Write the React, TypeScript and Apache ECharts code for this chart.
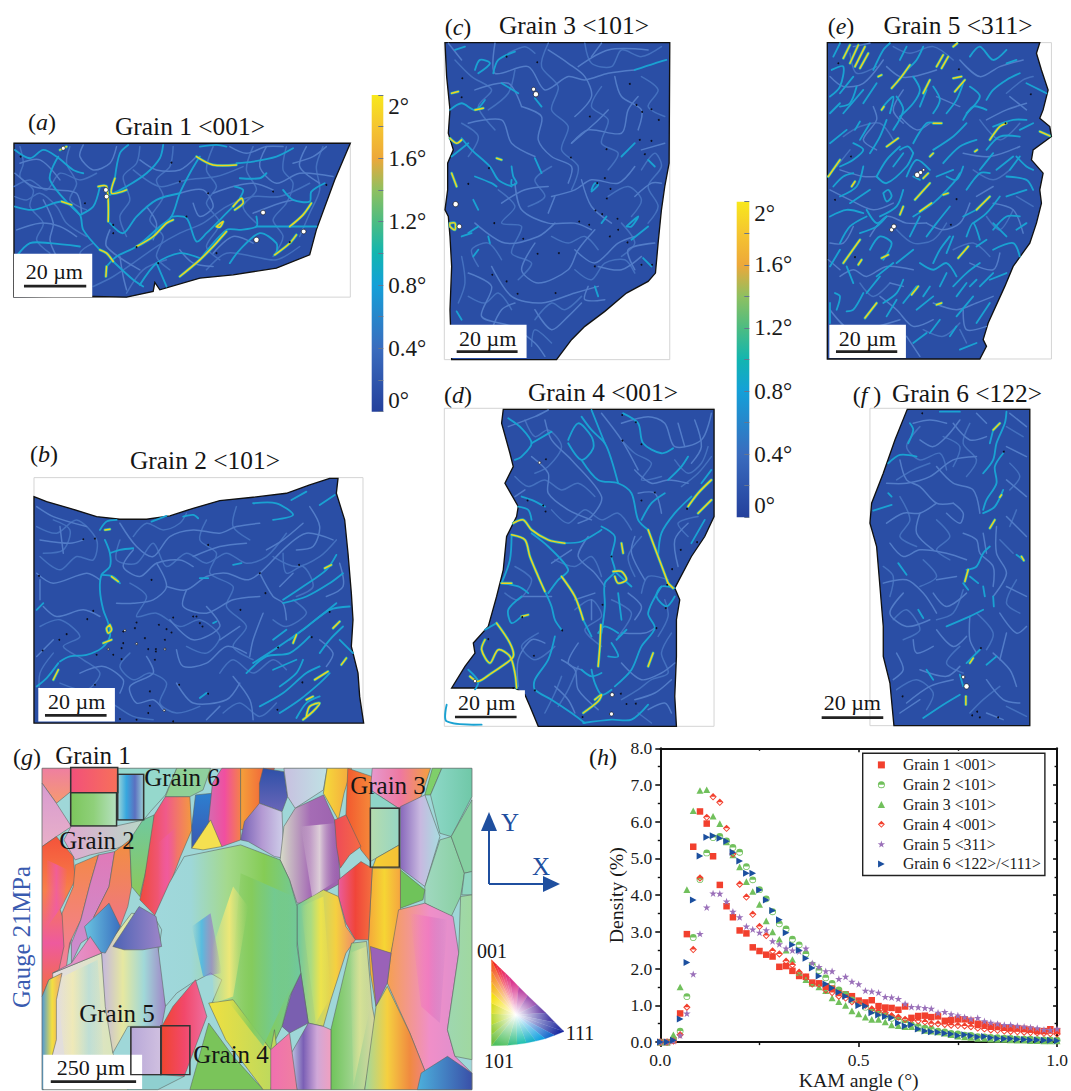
import * as echarts from "echarts"
import { useEffect, useRef } from "react"

const serif = '"Liberation Serif"'

// panel (h): density per KAM bin
const kamAngles = [0, 0.017, 0.033, 0.05, 0.067, 0.083, 0.1, 0.117, 0.133, 0.15, 0.167, 0.183, 0.2, 0.217, 0.233, 0.25, 0.267, 0.283, 0.3, 0.317, 0.333, 0.35, 0.367, 0.383, 0.4, 0.417, 0.433, 0.45, 0.467, 0.483, 0.5, 0.517, 0.533, 0.55, 0.567, 0.583, 0.6, 0.617, 0.633, 0.65, 0.667, 0.683, 0.7, 0.717, 0.733, 0.75, 0.767, 0.783, 0.8, 0.817, 0.833, 0.85, 0.867, 0.883, 0.9, 0.917, 0.933, 0.95, 0.967, 0.983, 1]
const grain1 = [0, 0, 0.05, 0.78, 2.94, 5.32, 6.28, 5.95, 5.06, 4.28, 3.7, 3.4, 3.04, 2.96, 2.58, 2.48, 2.38, 2.33, 2.05, 2.07, 1.94, 1.8, 1.78, 1.62, 1.6, 1.52, 1.46, 1.38, 1.3, 1.25, 1.13, 1.08, 1.14, 0.98, 0.94, 0.93, 0.88, 0.97, 0.66, 0.71, 0.72, 0.68, 0.7, 0.58, 0.6, 0.62, 0.62, 0.58, 0.5, 0.48, 0.42, 0.44, 0.4, 0.38, 0.38, 0.36, 0.34, 0.3, 0.3, 0.35, 0.3]
const grain2 = [0, 0, 0.05, 0.3, 1.24, 2.85, 4.43, 5.15, 5.57, 5.6, 5.48, 5.3, 5.17, 4.78, 4.42, 4.15, 3.9, 3.55, 3.22, 3.08, 2.8, 2.65, 2.4, 2.1, 1.95, 1.75, 1.6, 1.42, 1.3, 1.15, 1.05, 0.95, 0.85, 0.78, 0.72, 0.65, 0.6, 0.52, 0.47, 0.43, 0.38, 0.35, 0.3, 0.28, 0.24, 0.22, 0.19, 0.18, 0.15, 0.14, 0.13, 0.12, 0.11, 0.1, 0.09, 0.08, 0.08, 0.07, 0.06, 0.06, 0.05]
const grain3 = [0, 0, 0.2, 1.5, 4.15, 6.3, 6.85, 6.87, 6.15, 5.95, 5.45, 5.1, 4.77, 4.37, 4.1, 3.75, 3.3, 3, 2.8, 2.5, 2.25, 1.9, 1.7, 1.6, 1.5, 1.4, 1.2, 1.1, 1, 0.85, 0.77, 0.68, 0.62, 0.62, 0.55, 0.47, 0.45, 0.42, 0.42, 0.38, 0.32, 0.3, 0.28, 0.24, 0.2, 0.16, 0.14, 0.13, 0.1, 0.1, 0.08, 0.07, 0.07, 0.06, 0.05, 0.05, 0.04, 0.04, 0.03, 0.03, 0.03]
const grain4 = [0, 0, 0.03, 0.2, 0.95, 2.52, 4.47, 6.12, 6.68, 6.53, 5.82, 5.12, 4.3, 3.95, 3.48, 3.15, 2.9, 2.48, 2.4, 2.2, 2.1, 1.9, 1.77, 1.58, 1.58, 1.42, 1.35, 1.25, 1.2, 1.1, 1.05, 1, 0.9, 0.85, 0.8, 0.72, 0.68, 0.62, 0.62, 0.58, 0.55, 0.5, 0.5, 0.48, 0.46, 0.45, 0.44, 0.42, 0.38, 0.36, 0.33, 0.32, 0.3, 0.29, 0.28, 0.27, 0.26, 0.25, 0.24, 0.23, 0.22]
const grain5 = [0, 0, 0.03, 0.18, 0.78, 1.85, 2.95, 3.67, 4.05, 4.04, 3.83, 3.55, 3.4, 3.15, 3.07, 2.98, 3.05, 2.75, 2.67, 2.55, 2.5, 2.47, 2.55, 2.15, 2.05, 1.93, 1.93, 1.72, 1.78, 1.65, 1.58, 1.4, 1.38, 1.35, 1.23, 1.22, 1.18, 1.05, 0.96, 0.95, 0.93, 0.91, 0.8, 0.82, 0.76, 0.73, 0.68, 0.63, 0.66, 0.57, 0.53, 0.5, 0.47, 0.47, 0.44, 0.42, 0.4, 0.38, 0.34, 0.33, 0.36]
const grain6 = [0, 0, 0.05, 0.63, 2.17, 3.87, 5.07, 5.58, 5.62, 5.55, 5.47, 5.17, 4.93, 4.6, 4.6, 4.14, 3.87, 3.58, 3.33, 2.98, 2.65, 2.5, 2.28, 2.02, 1.8, 1.58, 1.47, 1.36, 1.25, 1.15, 1, 0.98, 0.8, 0.74, 0.7, 0.66, 0.52, 0.44, 0.47, 0.36, 0.3, 0.28, 0.27, 0.24, 0.22, 0.18, 0.2, 0.17, 0.14, 0.15, 0.12, 0.1, 0.09, 0.09, 0.08, 0.07, 0.06, 0.06, 0.05, 0.05, 0.04]
const legendNames = ["Grain 1 <001>", "Grain 2 <101>", "Grain 3 <101>", "Grain 4 <001>", "Grain 5 <311>", "Grain 6 <122>/<111>"]

const symSquare = "path://M0 0L10 0L10 10L0 10Z"
const symHalfCircle = "path://M0 5A5 5 0 0 1 10 5Z M0 5A5 5 0 0 0 10 5L8.8 5A3.8 3.8 0 0 1 1.2 5Z"
const symTriUp = "path://M5 0L10 9.5L0 9.5Z"
const symHalfDiamond = "path://M0 5L5 0L10 5Z M0 5L5 10L10 5L8.2 5L5 8.2L1.8 5Z"
const symStar = "path://M5 0L6.2 3.6L10 3.6L6.9 5.9L8.1 9.5L5 7.3L1.9 9.5L3.1 5.9L0 3.6L3.8 3.6Z"
const symTriRight = "path://M0 0L9.5 5L0 10Z"

// KAM maps, traced in 3x crop coordinates of each panel
const mapA = {
  origin: [0, 90],
  frame: [42, 160, 1010, 462],
  outline: "42,160 1052,160 1005,270 950,420 930,495 830,535 700,555 600,565 480,600 465,578 460,605 380,622 280,620 42,622",
  net: ["42,290 90,270 140,300 180,250 240,270 290,250", "60,170 70,220 60,260 100,300 90,350 130,400 110,450 150,490", "210,170 200,220 230,280 210,330 260,360", "420,170 410,220 370,260 390,330 360,380 380,440", "520,170 510,230 470,270 490,320 450,390 490,440 470,500 510,540", "640,170 620,240 650,290 620,340 660,400 620,470 660,510", "760,170 740,240 770,300 730,350 770,400", "860,170 850,240 880,280 860,340 820,390 850,440 820,500", "970,170 950,230 960,300 930,370 900,440", "280,590 340,560 400,520 470,470 540,430 610,400 680,350 760,320 840,320 930,280", "400,240 480,290 560,270 650,260 730,230", "620,540 680,490 760,500 830,510 900,470", "45,320 80,330 120,310 170,350 200,400 260,440", "380,610 430,540 500,510", "270,530 240,490 280,460"],
  faint: ["45,250 100,290 170,300 230,310 245,370", "250,165 240,200 280,240 330,220 350,170", "60,220 120,210 180,270", "130,330 160,400 150,450 170,500", "50,420 120,400 180,410 230,440", "360,500 370,560 380,600", "420,210 470,240 540,240 590,200", "540,310 610,300 640,350 600,380 580,340", "640,310 700,290 760,280 820,300", "800,170 780,230 830,280 900,250 1000,260", "640,490 700,440 760,460", "880,220 940,200 980,170", "540,480 580,520 640,530", "440,350 470,400 460,450", "690,170 740,190 800,170 850,170", "920,170 900,230 960,280", "330,420 320,470 420,540", "760,370 840,340 880,330"],
  mid: ["45,180 90,205 130,180 170,200 220,240 250,250", "490,165 480,205 440,250 380,290 330,315", "600,200 570,250 540,310 515,380 480,410 410,470 350,500 320,530", "385,165 360,190 345,265", "45,350 100,360 190,335 240,375 250,420 300,480", "300,290 280,350 240,375", "330,400 370,430 410,380 470,330 540,310", "515,380 560,385 590,455 620,430 680,370 710,340", "340,515 400,570 430,590", "420,585 470,520 540,490 600,505", "470,520 500,590", "600,510 680,420 720,420 770,410 770,380", "830,490 830,460 780,430 720,480 690,520", "770,410 830,410 870,410 950,410", "850,300 880,330 930,335 935,305 975,280", "600,170 650,165 680,170", "710,220 760,215 830,200 880,175", "720,265 780,265 800,250", "45,505 90,460 150,460 240,470", "175,200 150,270 240,375", "705,290 730,300 720,325"],
  hot: ["300,480 320,490 340,515", "295,290 320,290 325,395", "345,265 335,310 380,300", "410,470 460,440 500,400 520,390", "700,350 725,325 730,340 705,360", "870,410 910,375 935,340", "540,560 600,510 640,470 680,425", "590,200 640,225 710,225", "320,530 318,560", "650,410 670,395 660,412 650,410", "825,495 870,460 890,435", "180,180 200,170", "185,335 215,345"],
  dots: [[62, 200], [515, 218], [540, 275], [625, 310], [820, 305], [980, 285], [255, 340], [340, 405], [340, 430], [410, 472], [560, 380], [650, 490], [870, 457], [475, 520]],
  voids: [[190, 175, 6], [318, 300, 7], [320, 320, 7], [790, 368, 7], [770, 450, 8], [912, 425, 7]],
  box: [42, 492, 235, 130],
  bar: [72, 585, 187, 8],
  scale: [163, 545],
}
const mapB = {
  origin: [20, 440],
  frame: [42, 113, 988, 737],
  outline: "42,170 80,185 150,205 230,230 300,238 380,238 450,228 520,205 600,182 700,172 800,160 870,135 930,115 955,115 950,160 975,240 985,340 995,460 1000,540 995,620 1015,700 1020,770 1032,850 42,850",
  net: ["50,260 110,280 170,240 230,300 220,360 170,350 120,390 60,350", "60,560 120,540 180,590 130,620 190,660 240,700 200,750 120,730", "300,300 290,360 350,370 400,310 440,380 500,340 560,370 620,340 680,370 740,350 800,280", "560,240 540,300 590,340 570,400 640,440 620,500 680,560 640,620 700,660", "760,350 830,380 900,350 950,300", "330,430 380,470 350,530 410,520 480,560 540,540 600,590 560,640 500,620", "330,640 300,680 340,720 390,700 440,730 420,790 470,820 540,800", "100,240 150,270 130,330 70,340", "600,700 640,660 700,700 760,660 800,690", "820,480 860,520 800,560 760,540", "230,760 290,800 340,830 400,840", "60,770 60,700 100,640", "500,220 480,250 430,270 380,250 340,290", "650,200 640,260 690,300", "790,340 800,400 850,380 880,440 830,470", "610,820 660,790 720,830 770,790"],
  faint: ["50,200 100,230 200,260", "60,300 150,310 190,300", "50,400 100,430 200,400 240,420", "70,500 110,530 190,510 240,530", "300,250 350,320 400,350 450,290 520,270 600,280 650,260 720,250", "340,330 310,380 360,410 410,370 480,360 520,380", "410,370 440,440 400,480 340,490 290,490", "520,350 600,320 680,310", "440,440 500,450 560,410 620,400 680,420 720,400 800,320 860,280 940,300", "720,400 760,470 790,490 800,540", "500,450 490,500 560,520 640,480 720,470", "600,600 660,560", "470,630 490,680 560,670 620,620 680,640", "380,650 400,700 330,740 350,790 400,780 430,810", "180,700 250,680 310,720 300,760", "150,760 220,780 260,830", "640,710 690,780 700,840", "470,730 520,790 620,780 660,730", "560,840 600,800", "870,200 900,260 880,320 830,330", "730,520 700,600 690,650", "820,400 780,440", "60,420 60,480", "960,370 970,440 920,470", "100,600 50,650", "560,500 600,560 520,600 450,540", "850,250 790,300 740,330", "900,600 940,640 920,680", "120,260 130,340"],
  mid: ["240,270 260,245 290,240", "255,300 270,340 270,380 245,405 240,450 250,510 265,550 270,590 245,625 200,645 150,650 120,665", "270,340 300,330 340,325", "245,405 280,410 300,430", "115,670 80,715 50,740", "395,245 440,228", "490,230 520,225 535,235", "760,240 820,225 770,190 700,190", "815,180 860,155", "900,195 945,165", "790,480 850,440 920,390 950,345", "760,600 800,570", "700,670 770,625 850,570 930,510 990,500", "810,600 900,530 950,490", "780,740 830,700 850,660", "720,800 790,760 860,700 900,680", "830,835 860,790 900,770", "960,600 1000,640", "540,775 560,760", "580,550 590,545", "50,510 70,490", "640,375 665,370", "540,415 565,415", "780,820 840,780 900,730 930,700", "680,700 740,650 810,640 870,590", "790,490 860,470 930,430 970,400", "900,640 930,600 970,560", "760,690 830,660"],
  hot: ["255,270 270,268", "270,555 260,565 265,580 275,570 270,555", "250,610 275,600", "115,690 100,720", "820,610 830,585", "915,385 935,375", "940,565 960,545", "860,830 870,800 900,790 880,815 850,840", "885,720 925,695", "860,780 880,770", "965,675 980,655", "295,425 275,410"],
  dots: [[190, 298], [225, 296], [565, 315], [57, 408], [395, 420], [720, 400], [838, 375], [737, 460], [662, 510], [930, 516], [220, 513], [202, 538], [350, 548], [345, 565], [310, 575], [417, 555], [460, 533], [520, 530], [530, 530], [540, 550], [548, 560], [440, 568], [455, 578], [375, 595], [310, 610], [435, 600], [305, 625], [385, 628], [408, 628], [408, 635], [280, 645], [305, 658], [405, 660], [230, 645], [140, 583], [118, 600], [68, 632], [775, 623], [876, 592], [848, 728], [478, 735], [390, 755], [565, 762], [390, 798], [385, 820], [773, 810], [350, 840], [300, 838], [460, 845], [225, 735]],
  voids: [[315, 572, 3], [265, 628, 3], [350, 612, 3], [435, 628, 3], [433, 812, 3]],
  box: [55, 745, 230, 100],
  bar: [75, 823, 185, 8],
  scale: [170, 785],
}
const mapC = {
  origin: [435, 10],
  frame: [28, 98, 677, 952],
  outline: "30,98 705,98 703,460 690,530 680,600 670,700 662,790 640,815 575,850 510,905 450,950 410,990 365,1050 50,1050 45,900 50,770 45,680 40,620 30,600 38,540 38,460 55,420 40,370 45,300 35,200",
  net: ["60,150 110,200 170,240 130,290 180,360", "240,180 220,250 160,300", "80,340 130,380 100,440", "340,100 320,170 370,230 350,300 400,350 380,420 430,470 410,540", "450,100 470,160 530,170 560,120 620,140 680,110", "620,200 670,240 640,290 690,320", "500,230 470,290 520,330 500,400 550,430 520,480", "620,480 660,430 680,470 640,530 670,590 640,640", "190,540 240,590 200,640 260,650 230,730 290,760 250,810", "350,470 300,510 330,560 280,590", "130,770 110,720 160,700 200,750", "350,680 400,700 450,680 490,720", "420,780 470,810 510,760 570,750 600,790", "100,860 150,880 190,850 230,900", "300,930 350,880 390,900 440,860", "520,560 580,530 620,570 590,620", "560,640 600,700 560,740", "290,1010 300,960 350,1000", "80,740 90,820 70,880", "220,130 270,110 300,130"],
  faint: ["180,100 180,190 280,170 330,240 400,200 450,210 520,190 600,180", "340,120 400,160 450,200 470,260 420,320", "260,290 320,320 310,390 350,440 410,470 400,520", "120,240 220,220 260,290", "100,340 200,330 230,400 300,440", "410,400 460,360 560,370 580,300 610,260", "430,170 520,120 640,120", "540,200 560,260 620,300 610,360", "350,560 420,540 470,510 550,520 600,470", "440,510 470,590 530,640", "240,520 260,600 340,640 420,640 470,660", "340,610 360,560", "120,640 210,700 310,680 360,640", "170,770 230,860 320,880 420,850 490,830", "300,700 260,780 310,820 400,780 430,720 480,660", "420,720 480,760 550,700 600,680", "490,770 560,780 620,740", "100,790 170,830 140,920 230,950 300,1000 330,1040", "300,900 350,960 400,920 440,880", "460,830 450,870 510,870", "600,560 650,520 680,520", "620,420 690,400", "40,100 80,150", "520,300 480,340 410,400", "500,100 470,140", "200,580 270,540 340,530", "600,780 580,720 660,700", "240,880 200,900 170,960"],
  mid: ["60,120 90,110", "175,190 190,150 240,125", "120,180 135,150 165,160 130,190", "200,220 250,250", "300,265 320,290", "45,300 80,280 120,300 150,270", "80,385 110,420 165,470 190,510 230,530", "50,440 100,400", "120,500 170,520 185,530", "115,570 130,600", "100,670 130,650", "80,680 110,670", "160,680 165,700", "115,740 130,720", "600,180 660,160 695,150", "560,440 600,400", "470,545 490,525 480,520 470,540", "590,690 640,650", "575,650 610,620 590,650 575,650", "625,745 650,770", "640,450 660,470", "480,830 490,860", "65,905 80,930", "515,620 500,640", "230,470 235,500 245,520 230,525 230,510", "300,445 320,490"],
  hot: ["45,385 65,400 80,390", "45,640 60,640 60,660 45,650 45,640", "50,250 70,245", "50,490 65,530", "120,300 145,295", "185,445 200,450"],
  dots: [[215, 140], [307, 157], [82, 205], [80, 262], [585, 222], [605, 285], [622, 306], [650, 298], [672, 330], [465, 320], [615, 390], [650, 393], [515, 418], [408, 443], [630, 433], [162, 475], [100, 522], [487, 520], [510, 505], [527, 537], [516, 566], [482, 602], [502, 613], [548, 627], [433, 635], [463, 645], [550, 660], [525, 680], [578, 698], [178, 640], [265, 687], [308, 732], [372, 730], [480, 770], [620, 765], [652, 765], [172, 795], [215, 815], [248, 852], [362, 850]],
  voids: [[296, 238, 6], [303, 253, 8], [62, 583, 8], [73, 650, 7]],
  box: [40, 945, 235, 100],
  bar: [65, 1022, 183, 8],
  scale: [158, 985],
}
const mapD = {
  origin: [435, 380],
  frame: [28, 85, 810, 955],
  outline: "205,88 838,88 838,410 810,470 770,530 720,625 735,660 725,720 725,830 720,950 725,1040 310,1040 285,980 270,945 240,925 50,925 90,860 120,820 115,790 160,740 185,650 205,570 215,470 245,410 250,380 210,310 235,260 225,220 200,130",
  net: ["270,120 300,170 340,150 380,200 340,260 300,280", "240,290 280,320 330,300 380,330 430,310 480,350", "560,180 600,220 650,250 620,300 680,290", "720,240 760,280 800,250 820,200", "350,390 400,430 450,390 500,420 550,400 590,450", "620,470 580,530 600,590", "360,540 420,560 470,530 500,590", "240,560 290,600 250,660 210,640", "420,690 470,660 500,710 450,750 500,800", "310,760 260,800 300,840 360,800", "530,660 590,700 550,770", "620,640 640,590 700,600", "380,890 360,940 330,1000", "560,960 610,930 650,900 700,880 680,820 710,760", "610,1000 650,1030", "670,770 700,710 690,660", "430,860 400,930 370,980", "740,320 790,280 830,230", "760,470 730,430 790,410"],
  faint: ["330,120 350,180 410,240 500,350 470,410 430,430", "290,230 340,280 340,340 400,390 470,420", "560,130 640,110 690,130 720,200 800,180 830,100", "600,270 650,310 700,300 760,310", "610,340 660,340 680,400", "730,130 750,200", "600,470 590,520 630,600", "460,470 430,530 480,580 510,620", "410,510 350,550", "580,640 620,680 600,720", "420,660 480,640", "430,790 400,850 440,870", "330,790 290,780 250,840 250,920", "380,840 420,870 430,930 490,990", "560,850 620,900 680,880 720,850", "600,960 660,940 710,900", "350,650 300,650 260,650", "360,920 400,960 420,1000", "640,990 690,970 710,1000", "760,430 720,480 730,560", "470,660 470,720", "780,120 800,200 770,250", "220,140 300,110 340,90", "560,760 630,760 660,745", "270,330 240,350", "500,100 560,180 610,270"],
  mid: ["220,115 260,145 290,190 260,230 240,240", "290,190 350,155", "440,110 470,150 510,190 530,240 550,310", "470,90 510,190", "400,180 430,130 470,170 475,205 440,240 400,190", "440,240 490,300 550,310 590,340 610,420 640,450", "565,100 610,130 625,190 680,220 715,205", "700,300 740,260 760,230", "690,340 650,370 620,420", "830,270 800,310", "720,625 680,620 665,650 695,680 720,650", "680,620 640,700 660,745 620,800 590,870 540,920", "670,530 680,460 720,400 770,350", "810,420 770,490", "500,440 540,470 530,530 540,575 510,610 510,680 500,760", "540,575 590,620", "250,380 280,390 290,420", "260,350 290,360 330,380", "390,490 440,485 500,450", "230,465 225,540 200,610", "200,610 250,620 280,640", "340,640 370,600 400,570 340,500 290,460", "330,635 350,680 360,720 380,750", "445,720 470,770", "260,710 230,730 220,690 260,650", "360,770 340,840 300,900 300,930 350,960 410,1000 450,1030", "185,730 150,750", "100,870 130,905 120,930", "545,780 575,750", "470,870 480,910 500,945 530,930", "520,830 550,830 530,790", "440,870 470,890 500,880", "445,1030 530,1020 590,1020 640,975", "490,760 510,740 550,760", "550,640 560,720", "35,975 35,1025 140,1035"],
  hot: ["235,430 265,420 290,450 340,480 390,490", "230,465 270,480 285,530 310,590 330,635", "380,590 420,650 445,720", "498,735 495,800 490,860", "535,575 560,575 575,600 550,610 540,590", "700,610 715,625", "640,450 670,530 700,610", "150,780 140,810 165,850 190,810 225,830 240,880 245,925", "185,730 225,790 235,830 200,860 170,880 130,905 105,890", "480,960 500,945 490,965 445,1000", "830,300 790,340 760,380", "640,860 655,820", "830,360 790,400", "200,610 230,610", "260,710 280,705", "560,490 565,520"],
  dots: [[562, 105], [603, 127], [563, 182], [620, 193], [333, 238], [278, 362], [325, 377], [332, 395], [660, 338], [620, 362], [757, 387], [787, 487], [738, 510], [712, 568], [697, 615], [693, 685], [665, 745], [503, 675], [530, 530], [382, 752], [297, 828], [262, 712], [160, 778], [558, 942], [575, 973], [603, 972], [443, 1012], [300, 932], [235, 925]],
  voids: [[314, 248, 4], [120, 904, 5], [532, 945, 6], [530, 1003, 6]],
  box: [45, 932, 225, 88],
  bar: [60, 1008, 185, 8],
  scale: [155, 968],
}
const mapE = {
  origin: [820, 10],
  frame: [22, 98, 673, 950],
  outline: "22,98 660,98 650,130 665,180 685,240 670,300 660,325 690,350 695,380 640,420 635,450 670,490 660,540 665,580 650,640 630,700 580,770 555,830 505,940 490,990 500,1010 480,1048 22,1048",
  net: ["90,130 110,190 170,170", "220,110 270,130 340,110 400,150", "560,250 610,210 640,200", "480,330 540,390 600,340", "70,380 120,350 180,340 220,390", "50,470 90,420", "230,660 280,700 340,690 380,640", "400,720 460,700 510,740", "500,620 540,660 580,600", "120,820 160,860 210,820", "310,960 370,980 420,940", "440,1000 420,960", "590,560 640,590", "460,480 520,510 570,480"],
  faint: ["30,200 70,230 130,220 190,150", "200,170 240,200 280,200 350,180", "420,150 480,200 540,170 610,150", "500,330 560,300 620,280", "160,290 170,330 130,390 170,420", "240,320 290,360 330,340", "30,540 90,570 160,600 220,580", "320,640 370,660 420,640 450,580", "150,680 200,620 260,640 320,640", "60,800 100,780 140,800 200,770 280,780", "30,900 90,960 170,950 240,930", "180,860 230,900 280,950 340,930", "340,880 410,900 470,880 520,860", "520,580 580,600 610,670", "450,760 520,780 540,730", "430,430 510,440 600,410", "350,260 420,290", "60,480 130,500 170,500", "100,110 150,100", "260,980 300,1040", "430,900 440,960 500,950", "570,260 620,300", "250,240 220,300 250,340", "470,560 520,530", "30,700 70,700 100,650", "25,750 60,780", "210,820 250,830"],
  mid: ["40,140 60,100", "160,180 190,120 210,100", "240,150 260,110", "130,280 170,220", "70,310 130,240", "105,360 120,335", "190,290 220,260 210,310", "300,290 320,240", "280,200 300,240 280,280 240,320", "380,310 410,270 430,220", "450,140 480,110 520,150 560,120", "500,270 520,240 560,210 600,190", "560,160 590,150", "430,330 460,290 500,300", "30,400 80,360", "100,400 130,420 100,450 60,470", "170,500 200,450 240,410", "170,500 200,520 260,470 280,430", "190,550 200,575 215,560 205,540 190,550", "240,420 265,410 280,430", "280,400 320,340 350,340", "340,420 400,380 440,340", "370,460 420,410 470,390", "300,510 280,500", "280,620 340,580 400,520 420,490", "350,500 400,480", "440,540 480,490 510,490", "430,620 470,600", "520,660 560,620 600,620", "390,680 360,720 340,760", "400,680 380,730", "440,680 460,640 480,690", "470,710 500,690", "30,620 80,600 130,610", "90,580 150,540", "120,670 170,650 200,620", "150,720 180,680 215,700 190,750", "230,760 280,720", "300,760 340,780 380,760 410,800", "450,830 470,810", "510,810 560,790", "410,860 440,820", "360,830 380,790", "250,880 290,830", "310,860 330,830", "140,850 180,800", "45,850 60,860 50,900", "80,905 100,900 130,850", "330,970 360,930", "390,980 410,950", "280,1000 320,970", "420,1020 470,1000", "590,440 620,470 640,480", "600,360 640,340", "530,480 580,440", "560,500 620,510 640,540", "560,560 620,540", "590,660 620,640", "520,720 580,700 600,740", "620,220 660,240 680,250", "60,250 100,200", "35,180 70,170 60,230 30,260", "110,230 90,280 60,290", "150,340 120,390", "200,330 180,380 150,430", "230,260 250,300 220,360", "260,180 290,150 310,110", "340,230 360,270 340,310", "450,230 480,260 440,310", "520,350 580,330 620,330", "500,420 540,380 600,380", "480,480 520,430", "570,480 600,440", "130,470 110,530 60,560", "40,530 70,500 100,490", "200,620 170,640 140,600", "60,700 90,650 140,620", "30,770 60,720", "170,800 220,760", "250,810 230,850 190,880", "200,920 230,870", "290,900 340,860", "400,830 440,790 480,760", "480,830 520,790", "470,940 510,880", "410,920 460,860", "320,680 350,640 390,590", "270,680 300,620", "250,540 230,590 180,620", "330,480 290,450 260,500", "430,470 410,510 380,500", "540,560 500,610 460,640", "560,680 520,640", "30,940 30,880", "100,820 80,770", "220,470 250,430", "30,310 60,280"],
  hot: ["70,145 90,105", "90,160 115,105", "105,170 135,110", "120,175 145,130", "215,235 245,200 270,165", "350,170 370,135", "365,175 385,140", "400,205 425,200", "405,245 435,210", "660,365 690,378", "510,390 540,350 560,340", "470,600 510,560", "415,745 445,710", "285,570 330,520", "25,500 60,450", "310,505 325,490", "330,440 340,430", "200,410 235,385", "70,760 120,690", "115,765 125,750", "185,745 205,735", "185,300 192,290", "95,530 105,515", "370,555 385,550", "275,855 295,830", "135,925 170,880", "350,885 365,880", "465,425 472,420", "340,340 365,340", "300,605 335,580", "240,615 250,590", "175,200 185,195", "400,110 412,100", "310,250 330,210"],
  dots: [[55, 160], [417, 178], [633, 253], [557, 340], [93, 440], [45, 570], [410, 568], [393, 645], [105, 742]],
  voids: [[292, 495, 8], [302, 488, 6], [311, 480, 4], [215, 660, 6], [222, 650, 7]],
  box: [28, 945, 230, 100],
  bar: [48, 1022, 184, 8],
  scale: [142, 985],
}
const mapF = {
  origin: [820, 380],
  frame: [150, 85, 480, 953],
  outline: "262,88 630,88 630,1038 222,1038 210,910 190,830 190,740 180,620 170,500 150,430 155,370 190,280 225,180",
  net: ["230,300 280,270 330,250", "300,140 260,200 300,240 360,220 380,270", "450,130 430,190 470,240 440,290", "240,350 270,420 240,470 290,500", "350,420 390,470 350,510 390,540", "310,540 350,590 300,620", "430,630 400,700 350,720", "220,720 260,690 300,750 250,780", "560,140 610,170", "570,250 600,290 570,330", "590,390 570,440", "580,520 540,480", "590,600 560,670 600,700", "470,700 520,760 500,810", "420,800 380,850 430,880", "230,930 290,900 340,940 320,990", "450,1000 490,960 540,920", "560,980 620,1010", "370,170 420,200 400,260", "190,560 220,590 210,650"],
  faint: ["200,310 260,310 330,290 400,240 470,230", "240,240 260,300 300,320 350,370 400,370", "300,180 340,200 380,170 420,120", "280,130 330,120 380,130", "470,100 500,130", "350,260 400,310 460,330 480,400", "400,370 430,400 420,430 380,400", "200,430 250,400 300,400 350,370", "210,490 250,530 300,510 380,520 440,540", "300,400 290,460 340,510", "350,600 410,590", "430,460 470,480 480,520 520,560 520,620", "490,460 500,520", "530,440 530,520 560,580 520,650", "190,610 260,600 310,640 350,700", "250,640 210,700 260,740 330,720", "340,640 380,680 440,640", "450,710 450,780 470,820", "350,750 400,800 440,770", "230,820 250,870 220,900", "280,780 290,820 340,800", "300,870 380,890 420,860", "500,900 550,960 600,970", "520,820 570,870 590,920", "560,200 620,230", "560,300 620,350", "560,410 620,470", "560,620 620,650", "540,700 590,760 620,740", "260,970 330,920 400,900", "240,1000 300,960", "500,1000 550,1020", "560,760 540,840", "400,130 450,180 500,170", "570,100 620,140"],
  mid: ["520,150 510,190", "560,95 555,130 530,190 520,240 490,280", "550,220 525,260 530,310 500,360 490,390", "550,330 525,380 490,400", "440,570 470,560 490,520 510,500", "430,610 445,630", "450,590 475,610", "495,650 490,620", "520,650 522,680", "380,740 450,710 490,690", "310,1015 370,975 420,945", "440,850 480,810", "320,870 340,900", "235,550 260,585", "205,250 240,225 290,230", "205,340 215,350", "160,392 215,375", "265,190 280,150 270,130", "360,95 420,95", "590,525 610,540", "295,690 310,715", "500,855 530,830", "420,885 430,920"],
  hot: ["520,150 540,130", "510,445 525,420", "435,605 445,570", "450,850 460,835", "438,950 438,975", "545,345 540,352", "605,530 612,542"],
  dots: [[307, 100], [552, 215], [483, 805], [248, 950], [457, 1007], [472, 996], [480, 1013], [535, 1013]],
  voids: [[430, 892, 5], [440, 920, 8]],
  box: null,
  bar: [5, 1010, 185, 8],
  scale: [97, 968],
}
const kamMaps = [mapA, mapB, mapC, mapD, mapE, mapF]

// panel (g): orientation map grains, [outline, colours left-to-right or top-to-bottom, direction]
const ipfGrains: [string, string[], string][] = [
  ["112,85 188,85 188,155 150,190 112,130", ["#ef7fa0", "#f59a70"], "v"],
  ["112,130 150,190 190,260 150,290 112,320", ["#d89ad0", "#e8b0c8"], "v"],
  ["313,85 470,85 440,165 400,215 382,240 382,103 313,103", ["#95d8cc", "#95d8cc"], "h"],
  ["190,258 310,258 382,240 345,310 300,330 240,345 200,360 170,300", ["#e0a8d0", "#b8d8c8"], "h"],
  ["112,320 150,290 195,350 200,420 160,510 190,600 165,700 130,720 112,770", ["#f4533a", "#f77f4a", "#ee5a9d", "#f4703c"], "v"],
  ["200,375 262,345 240,430 215,540 185,610 175,695 155,700 170,620 165,520 195,440", ["#f3884a", "#f37ea0"], "v"],
  ["262,345 305,335 290,440 250,530 240,590 215,610 190,670 190,610 215,540 240,430", ["#e07ab8", "#c88fd0"], "v"],
  ["305,335 345,300 350,440 340,500 320,560 300,605 270,600 250,530 290,440", ["#f28f3f", "#ef7090"], "v"],
  ["345,300 380,240 410,225 405,320 380,430 372,470 350,440", ["#6fc9a0", "#8cc85c"], "v"],
  ["410,225 440,170 505,170 510,270 480,350 450,440 415,530 372,480 385,410", ["#ef4a3c", "#f05a8a", "#f39a3f"], "h"],
  ["470,85 560,85 540,150 505,170 440,170", ["#8fd08f", "#8fd0a0"], "h"],
  ["520,165 565,160 560,240 510,325 510,260", ["#2d7fd0", "#3a58b0"], "v"],
  ["565,130 590,85 640,85 640,300 590,320 565,290 555,240", ["#d66ab0", "#f04fa0", "#f5804a"], "h"],
  ["510,325 560,240 590,320 540,330", ["#f5e050", "#f5e050"], "h"],
  ["640,85 730,85 700,170 670,260 640,270", ["#f5a03a", "#f0503a"], "h"],
  ["700,85 755,95 765,170 750,215 690,190 690,130", ["#2e50a8", "#6a66b8"], "v"],
  ["755,85 870,85 860,150 785,205 765,170", ["#c8c0e0", "#bfe2e4"], "h"],
  ["690,190 750,215 755,355 730,350 660,305 640,300 650,245", ["#7560b5", "#b49ad3", "#cfd0ea"], "h"],
  ["860,165 890,240 900,330 905,430 810,490 790,490 770,420 745,360 755,260 785,205", ["#d7dcc8", "#a56cb5", "#9c62ae"], "h"],
  ["870,85 935,85 915,160 900,240 860,160", ["#f5dc3a", "#f5a53f"], "h"],
  ["925,85 990,110 985,365 960,330 920,225", ["#f2582f", "#f68b3a"], "h"],
  ["890,240 920,225 960,320 930,345 905,385 895,320", ["#ee4a58", "#f56a45"], "h"],
  ["990,85 1145,85 1120,170 1070,205 1060,205 985,150", ["#e69ad0", "#ee78a0", "#f5a03c"], "h"],
  ["985,150 1060,205 985,205", ["#8fd4c8", "#8fd4c8"], "h"],
  ["985,205 1062,205 1062,315 1000,355 985,365", ["#b5dcae", "#97d6c4"], "h"],
  ["1000,355 1062,315 1065,385 990,385", ["#f5d035", "#f5c035"], "h"],
  ["1065,200 1130,165 1170,290 1130,440 1065,385", ["#8868bb", "#c8b8e0", "#a8dde0"], "h"],
  ["1130,165 1150,85 1175,85 1145,165", ["#7fcf6a", "#7fcf6a"], "h"],
  ["1175,85 1255,85 1255,170 1200,290 1170,280 1145,165", ["#8ed8c8", "#70c8a8"], "h"],
  ["1170,300 1200,290 1235,400 1225,470 1200,530 1130,490 1130,440", ["#a0d8c0", "#88d0a0"], "h"],
  ["1200,290 1255,180 1255,395 1235,400", ["#85cfa0", "#85cfa0"], "h"],
  ["1065,390 1130,450 1125,480 1065,505", ["#6fc35a", "#6fc35a"], "h"],
  ["1235,400 1255,395 1255,465 1228,465", ["#8fd6c0", "#8fd6c0"], "h"],
  ["990,385 1065,385 1065,510 1040,640 1000,800 985,700 980,600", ["#f5a83a", "#f6d534", "#f5a540"], "h"],
  ["900,420 960,365 990,385 980,600 945,600 920,550 900,470", ["#ea5c9c", "#f0453a", "#f4703f"], "h"],
  ["790,495 860,450 900,470 920,560 945,600 920,640 880,780 860,860 820,850 800,700 790,600", ["#6cc8a0", "#c0d870", "#f5d040", "#ef8a6a"], "h"],
  ["880,870 935,610 975,605 990,800 1000,860 970,1050 880,1050", ["#6fc45a", "#a0d48f", "#dcd8a0"], "h"],
  ["820,850 860,860 880,870 880,1050 790,1050 770,950", ["#c8d8e8", "#7a5fb5", "#d0a8d8", "#f0a0c0"], "h"],
  ["800,700 820,850 770,880 750,860 775,760", ["#7a5fb0", "#7a5fb0"], "h"],
  ["490,350 640,315 745,360 770,420 790,500 790,620 800,700 770,770 750,860 720,930 560,800 590,720 560,700 510,730 470,760 440,800 415,680 430,570 410,530 450,430", ["#a0d8dc", "#9ed7d8", "#a4d98c", "#85cc55", "#6fc8a0"], "h"],
  ["505,1050 555,850 620,950 700,1050", ["#7ac45a", "#7ac45a"], "h"],
  ["430,860 460,800 520,720 550,830 540,860 490,1010 430,1010", ["#f0452f", "#f2486a", "#ee6fa0"], "h"],
  ["555,790 620,780 720,930 730,870 740,960 720,1050 700,1050 600,900", ["#f0e040", "#b8d860"], "h"],
  ["270,640 350,520 410,530 440,800 430,860 340,860 300,940 285,900 275,800", ["#c4b6e0", "#e6e8a0", "#a0d8d8", "#a085c8"], "h"],
  ["300,620 370,500 415,530 430,620 380,630 330,630", ["#4c63b5", "#9d85c8"], "h"],
  ["140,700 270,640 280,800 300,940 340,1050 115,1050 145,900", ["#e5dbe8", "#d8e8b0"], "h"],
  ["112,770 130,720 165,700 150,780 150,900 115,1050 112,1050", ["#4d9ad8", "#f4e040", "#f0a070"], "h"],
  ["340,1005 430,1005 490,1010 420,1050 340,1050", ["#8fcfd0", "#8fcfd0"], "h"],
  ["225,560 290,490 320,560 280,640 240,630", ["#69c4e0", "#3a6fc0"], "h"],
  ["190,670 240,590 270,640 140,700", ["#e0a0d8", "#e87fb5"], "h"],
  ["1060,510 1130,490 1205,530 1220,640 1190,870 1210,950 1255,1000 1255,1050 1150,1050 1090,880 1030,730 1040,640", ["#f5a050", "#f08fc8", "#d88fd0"], "h"],
  ["1225,470 1255,465 1255,960 1210,950 1190,870 1220,640", ["#9ed7b0", "#a0d8a0"], "h"],
  ["985,620 1040,640 1030,730 1000,800", ["#9a62b8", "#9a62b8"], "h"],
  ["1000,800 1030,740 1090,880 1150,1050 970,1050", ["#a0d8a0", "#f5d040", "#f08a40", "#f080a0"], "h"],
  ["1120,1000 1190,950 1255,1000 1255,1050 1110,1050", ["#4cb0dc", "#3a50a8"], "h"],
  ["720,930 770,880 790,1050 720,1050", ["#f070b0", "#ef80a0"], "h"],
  ["188,85 313,85 313,158 188,158", ["#f2507a", "#f7705a"], "h"],
  ["188,158 310,158 310,258 188,258", ["#7cc65c", "#8fd07a", "#b5e0c0"], "h"],
  ["313,103 382,103 382,240 313,240", ["#9fd6d8", "#37a7de", "#5b70c0", "#9bcfd6"], "h"],
  ["348,862 428,862 428,1005 348,1005", ["#b8a8d8", "#d0c0e0"], "h"],
]
// soft colour bands laid across grains, without a boundary line
const ipfStreaks: [string, string[]][] = [
  ["640,400 780,470 790,700 700,920 610,790", ["rgba(132,203,92,0)", "rgba(132,203,92,0.95)", "rgba(110,201,160,0.7)", "rgba(110,201,160,0)"]],
  ["560,640 620,440 660,500 620,770 570,790", ["rgba(240,232,120,0)", "rgba(240,232,120,0.95)", "rgba(190,220,120,0)"]],
  ["510,560 560,520 590,700 540,710", ["rgba(70,180,230,0)", "rgba(70,180,230,0.8)", "rgba(150,110,200,0.6)", "rgba(150,110,200,0)"]],
  ["420,310 470,260 470,380 420,490", ["rgba(240,90,160,0)", "rgba(240,90,160,0.8)", "rgba(240,90,160,0)"]],
  ["125,360 180,390 170,490 120,570", ["rgba(240,90,170,0)", "rgba(240,90,170,0.8)", "rgba(240,90,170,0)"]],
  ["800,500 860,470 880,770 840,850", ["rgba(170,220,130,0)", "rgba(170,220,130,0.9)", "rgba(245,230,70,0.8)", "rgba(245,230,70,0)"]],
  ["1090,520 1190,540 1170,850 1120,800", ["rgba(240,120,190,0)", "rgba(240,120,190,0.8)", "rgba(170,120,200,0)"]],
  ["930,640 975,620 985,800 940,1040", ["rgba(230,230,150,0)", "rgba(230,230,150,0.7)", "rgba(230,230,150,0)"]],
  ["800,260 890,250 900,420 830,470", ["rgba(235,230,225,0)", "rgba(235,230,225,0.8)", "rgba(160,100,180,0)"]],
  ["150,720 260,660 280,1040 180,1040", ["rgba(250,240,160,0)", "rgba(250,240,160,0.55)", "rgba(170,220,220,0.6)", "rgba(170,220,220,0)"]],
]
const grainBoxes = [[188, 82, 125, 76], [188, 158, 122, 100], [313, 103, 69, 137], [985, 205, 77, 177], [348, 862, 80, 143], [428, 858, 77, 147]]
const ipfRim: [number, number, string][] = [[1307, 660, "#f01c1c"], [1319, 673, "#ee2240"], [1331, 686, "#e82a60"], [1343, 699, "#e0307a"], [1355, 712, "#d9368f"], [1379, 740, "#bb46a6"], [1403, 767, "#9a50b0"], [1428, 794, "#7048ac"], [1452, 820, "#4a40a8"], [1476, 848, "#2c34a4"], [1500, 875, "#1828a0"], [1475, 887, "#1468cc"], [1450, 897, "#10a0e0"], [1425, 904, "#16b0c8"], [1400, 910, "#20c0b0"], [1375, 914, "#38c088"], [1350, 917, "#50c060"], [1307, 918, "#70c040"], [1307, 885, "#94cc38"], [1307, 855, "#b8d830"], [1307, 822, "#d8dc20"], [1307, 790, "#f5e010"], [1307, 757, "#f5b818"], [1307, 725, "#f59020"], [1307, 692, "#f25820"]]
const ipfCentre = [1372, 825]

const panelLabels: [string, number, number][] = [["a", 42, 122], ["b", 44, 454], ["c", 458, 27], ["d", 458, 395], ["e", 841, 26], ["g", 27, 757], ["h", 603, 757]]
const panelTitles: [string, number, number][] = [["Grain 1 <001>", 190, 126], ["Grain 2 <101>", 205, 460], ["Grain 3 <101>", 574, 25], ["Grain 4 <001>", 603, 392], ["Grain 5 <311>", 958, 25], ["Grain 6 <122>", 967, 393]]
const grainTags: [string, number, number][] = [["Grain 1", 93, 755], ["Grain 6", 182, 777], ["Grain 2", 97, 840], ["Grain 3", 388, 785], ["Grain 5", 117, 1013], ["Grain 4", 231, 1054]]
const ipfTags: [string, number, number][] = [["001", 492, 951], ["111", 580, 1033], ["101", 499, 1061]]
const barStops = [[0, "#f8e81c"], [0.1, "#f5c530"], [0.2, "#eda83a"], [0.3, "#8fc060"], [0.4, "#4cbc82"], [0.5, "#12b5b0"], [0.6, "#14a0d8"], [0.8, "#3a6cbe"], [1, "#24409c"]]

const pts = (s: string) => s.split(" ").map((p) => p.split(",").map(Number))

const txt = (text: string, x: number, y: number, size: number, extra: any = {}) => ({
  type: "text",
  x,
  y,
  silent: true,
  style: { text, fontFamily: serif, fontSize: size, fill: "#151515", align: "center", verticalAlign: "middle", ...extra },
})

function kamMapElements(m: typeof mapB) {
  const line = (s: string, stroke: string, lineWidth: number) => ({
    type: "polyline",
    silent: true,
    shape: { points: pts(s), smooth: 0.3 },
    style: { stroke, lineWidth, fill: "none", lineCap: "round", lineJoin: "round" },
  })
  const [fx, fy, fw, fh] = m.frame
  const kids: any[] = [
    { type: "rect", silent: true, shape: { x: fx, y: fy, width: fw, height: fh }, style: { fill: "#fff", stroke: "#d4d4d4", lineWidth: 3 } },
    { type: "polygon", silent: true, shape: { points: pts(m.outline) }, style: { fill: "#2a4ea5", stroke: "#111", lineWidth: 4 } },
    ...m.net.map((s) => line(s, "#4470bf", 4.5)),
    ...m.faint.map((s) => line(s, "#527cc8", 4.5)),
    ...m.mid.map((s) => line(s, "#1aa2d2", 5.5)),
    ...m.hot.map((s) => line(s, "#22b2b4", 8.5)),
    ...m.hot.map((s) => line(s, "#f2d41e", 4.5)),
    ...m.dots.map(([cx, cy]) => ({ type: "circle", silent: true, shape: { cx, cy, r: 2.8 }, style: { fill: "#0c1020" } })),
    ...m.voids.map(([cx, cy, r]) => ({ type: "circle", silent: true, shape: { cx, cy, r }, style: { fill: "#fff", stroke: "#151515", lineWidth: 2 } })),
  ]
  if (m.box) {
    const [bx, by, bw, bh] = m.box
    kids.push({ type: "rect", silent: true, shape: { x: bx, y: by, width: bw, height: bh }, style: { fill: "#fff" } })
  }
  const [sx, sy, sw, sh] = m.bar
  kids.push({ type: "rect", silent: true, shape: { x: sx, y: sy, width: sw, height: sh }, style: { fill: "#222" } })
  return [
    { type: "group", x: m.origin[0], y: m.origin[1], scaleX: 1 / 3, scaleY: 1 / 3, silent: true, children: kids },
    txt("20 µm", m.origin[0] + m.scale[0] / 3, m.origin[1] + m.scale[1] / 3, 22),
  ]
}

function ipfElements() {
  const kids: any[] = [
    { type: "rect", silent: true, shape: { x: 112, y: 85, width: 1143, height: 965 }, style: { fill: "#9fd7d8", stroke: "#9a9a9a", lineWidth: 2 } },
  ]
  ipfGrains.forEach(([outline, colors, dir]) => {
    const stops = colors.map((color, i) => ({ offset: i / (colors.length - 1), color }))
    const fill = dir === "h" ? new echarts.graphic.LinearGradient(0, 0, 1, 0, stops) : new echarts.graphic.LinearGradient(0, 0, 0, 1, stops)
    kids.push({ type: "polygon", silent: true, shape: { points: pts(outline) }, style: { fill, stroke: "#5a645e", lineWidth: 1.6 } })
  })
  ipfStreaks.forEach(([outline, colors]) => {
    const stops = colors.map((color, i) => ({ offset: i / (colors.length - 1), color }))
    kids.push({ type: "polygon", silent: true, shape: { points: pts(outline) }, style: { fill: new echarts.graphic.LinearGradient(0, 0, 1, 0, stops) } })
  })
  kids.push({ type: "rect", silent: true, shape: { x: 115, y: 945, width: 263, height: 103 }, style: { fill: "#fff" } })
  kids.push({ type: "rect", silent: true, shape: { x: 135, y: 1022, width: 227, height: 8 }, style: { fill: "#222" } })
  grainBoxes.forEach(([x, y, width, height]) => {
    kids.push({ type: "rect", silent: true, shape: { x, y, width, height }, style: { fill: "none", stroke: "#333", lineWidth: 4 } })
  })
  ipfRim.forEach(([x, y, color], i) => {
    const [nx, ny] = ipfRim[(i + 1) % ipfRim.length]
    const r = Math.hypot((x + nx) / 2 - ipfCentre[0], (y + ny) / 2 - ipfCentre[1])
    const fill = new echarts.graphic.RadialGradient(ipfCentre[0], ipfCentre[1], r, [{ offset: 0, color: "#ffffff" }, { offset: 1, color }], true)
    kids.push({
      type: "polygon",
      silent: true,
      shape: { points: [ipfCentre, [x, y], [nx, ny]] },
      style: { fill, stroke: fill, lineWidth: 0.8 },
    })
  })
  return { type: "group", x: 0, y: 740, scaleX: 590 / 1568, scaleY: 1 / 3, silent: true, children: kids }
}

function axesArrow() {
  const blue = "#1f4f9f"
  return [
    { type: "line", silent: true, shape: { x1: 489, y1: 884, x2: 489, y2: 822 }, style: { stroke: blue, lineWidth: 2 } },
    { type: "polygon", silent: true, shape: { points: [[489, 812], [481, 831], [497, 831]] }, style: { fill: blue } },
    { type: "line", silent: true, shape: { x1: 489, y1: 884, x2: 550, y2: 884 }, style: { stroke: blue, lineWidth: 2 } },
    { type: "polygon", silent: true, shape: { points: [[560, 884], [543, 876], [543, 892]] }, style: { fill: blue } },
    txt("Y", 510, 822, 25, { fill: blue }),
    txt("X", 541, 866, 25, { fill: blue }),
  ]
}

const colorbarAxis = (gridIndex: number) => ({
  type: "value",
  gridIndex,
  position: "right",
  min: 0,
  max: 2,
  interval: 0.4,
  z: 3,
  axisLine: { show: false },
  splitLine: { show: false },
  axisTick: { show: true, inside: true, length: 5, lineStyle: { color: "#66758f", width: 1 } },
  minorTick: { show: true, splitNumber: 2, length: 5, lineStyle: { color: "#66758f", width: 1 } },
  axisLabel: {
    color: "#1a1a1a",
    fontFamily: serif,
    fontSize: 23,
    margin: 5,
    showMinLabel: true,
    showMaxLabel: true,
    verticalAlignMinLabel: "bottom",
    verticalAlignMaxLabel: "top",
    formatter: (v: number) => `${v}°`,
  },
})

const plotAxisStyle = { axisLine: { onZero: false, lineStyle: { color: "#111", width: 2 } }, splitLine: { show: false } }

export default function App() {
  const ref = useRef<HTMLDivElement>(null)

  useEffect(() => {
    if (!ref.current) return
    const chart = echarts.init(ref.current, undefined, { renderer: "svg" })

    const scatter = (name: string, data: number[], symbol: string, color: string, symbolSize: number) => ({
      name,
      type: "scatter",
      xAxisIndex: 0,
      yAxisIndex: 0,
      symbol,
      symbolSize,
      symbolKeepAspect: true,
      itemStyle: { color, opacity: 1 },
      data: kamAngles.map((x, i) => [x, data[i]]),
    })
    const colorbar = (index: number) => ({
      type: "bar",
      xAxisIndex: index,
      yAxisIndex: index,
      data: [2],
      barWidth: "100%",
      silent: true,
      itemStyle: { color: new echarts.graphic.LinearGradient(0, 0, 0, 1, barStops.map(([offset, color]) => ({ offset, color })) as any) },
    })

    chart.setOption({
      animation: false,
      grid: [
        { left: 660.3, top: 748.3, width: 399, height: 299 },
        { left: 371.7, top: 95, width: 11.6, height: 316.7 },
        { left: 736.7, top: 201.7, width: 12.6, height: 315.6 },
      ],
      xAxis: [
        {
          type: "value",
          gridIndex: 0,
          position: "bottom",
          min: 0,
          max: 1,
          interval: 0.5,
          name: "KAM angle (°)",
          nameLocation: "middle",
          nameGap: 27,
          nameTextStyle: { fontFamily: serif, fontSize: 19.8, color: "#1a1a1a" },
          ...plotAxisStyle,
          axisTick: { length: 5, lineStyle: { width: 1.6, color: "#111" } },
          minorTick: { show: true, splitNumber: 2, length: 3, lineStyle: { width: 1.4, color: "#111" } },
          axisLabel: { fontFamily: serif, fontSize: 17.5, color: "#1a1a1a", margin: 9, formatter: (v: number) => v.toFixed(1) },
        },
        {
          type: "value",
          gridIndex: 0,
          position: "top",
          min: 0,
          max: 1,
          interval: 0.5,
          ...plotAxisStyle,
          axisTick: { inside: true, length: 4, lineStyle: { width: 1.6, color: "#111" } },
          minorTick: { show: true, splitNumber: 2, length: 2.5, lineStyle: { width: 1.4, color: "#111" } },
          axisLabel: { show: false },
        },
        { type: "category", gridIndex: 1, data: [""], show: false },
        { type: "category", gridIndex: 2, data: [""], show: false },
      ],
      yAxis: [
        {
          type: "value",
          gridIndex: 0,
          position: "left",
          min: 0,
          max: 8,
          interval: 1,
          name: "Density (%)",
          nameLocation: "middle",
          nameGap: 34,
          nameTextStyle: { fontFamily: serif, fontSize: 19.8, color: "#1a1a1a" },
          ...plotAxisStyle,
          axisTick: { length: 5, lineStyle: { width: 1.6, color: "#111" } },
          minorTick: { show: true, splitNumber: 2, length: 2.5, lineStyle: { width: 1.4, color: "#111" } },
          axisLabel: { fontFamily: serif, fontSize: 17.5, color: "#1a1a1a", margin: 8, showMaxLabel: true, formatter: (v: number) => v.toFixed(1) },
        },
        {
          type: "value",
          gridIndex: 0,
          position: "right",
          min: 0,
          max: 8,
          interval: 1,
          ...plotAxisStyle,
          axisTick: { inside: true, length: 4, lineStyle: { width: 1.6, color: "#111" } },
          minorTick: { show: true, splitNumber: 2, length: 2.5, lineStyle: { width: 1.4, color: "#111" } },
          axisLabel: { show: false },
        },
        colorbarAxis(1),
        colorbarAxis(2),
      ],
      legend: {
        left: 862.7,
        top: 753.3,
        orient: "vertical",
        data: legendNames,
        selectedMode: false,
        padding: [3, 4, 3, 15],
        itemGap: 2.6,
        itemWidth: 33,
        itemHeight: 7,
        backgroundColor: "#fff",
        borderColor: "#222",
        borderWidth: 1.4,
        textStyle: { fontFamily: serif, fontSize: 15.8, color: "#1a1a1a", lineHeight: 17.2 },
      },
      series: [
        scatter(legendNames[0], grain1, symSquare, "#f2402e", 6.5),
        scatter(legendNames[1], grain2, symHalfCircle, "#71c05c", 6.8),
        scatter(legendNames[2], grain3, symTriUp, "#71c05c", 7),
        scatter(legendNames[3], grain4, symHalfDiamond, "#f2402e", 7.4),
        scatter(legendNames[4], grain5, symStar, "#9a70b9", 7.6),
        scatter(legendNames[5], grain6, symTriRight, "#1b4f9f", 7),
        colorbar(2),
        colorbar(3),
      ],
      graphic: {
        elements: [
          ...kamMaps.flatMap((m) => kamMapElements(m as typeof mapB)),
          ipfElements(),
          ...axesArrow(),
          ...panelTitles.map(([t, x, y]) => txt(t, x, y, 25.4)),
          ...panelLabels.map(([l, x, y]) => ({
            ...txt(`({i|${l}})`, x, y, 24),
            style: { ...txt("", x, y, 24).style, text: `({i|${l}})`, rich: { i: { fontFamily: serif, fontSize: 24, fontStyle: "italic", fill: "#151515" } } },
          })),
          {
            ...txt("(f )", 867, 395, 24),
            style: { ...txt("", 867, 395, 24).style, text: "({i|f} )", rich: { i: { fontFamily: serif, fontSize: 24, fontStyle: "italic", fill: "#151515" } } },
          },
          ...grainTags.map(([t, x, y]) => txt(t, x, y, 25)),
          ...ipfTags.map(([t, x, y]) => txt(t, x, y, 20)),
          txt("250 µm", 91, 1067, 22),
          { ...txt("Gauge 21MPa", 21, 937, 24.7, { fill: "#3a5bb0" }), rotation: Math.PI / 2 },
        ],
      },
    })

    return () => chart.dispose()
  }, [])

  return <div ref={ref} style={{ position: "absolute", left: 0, top: 0, width: 1071, height: 1091 }} />
}
